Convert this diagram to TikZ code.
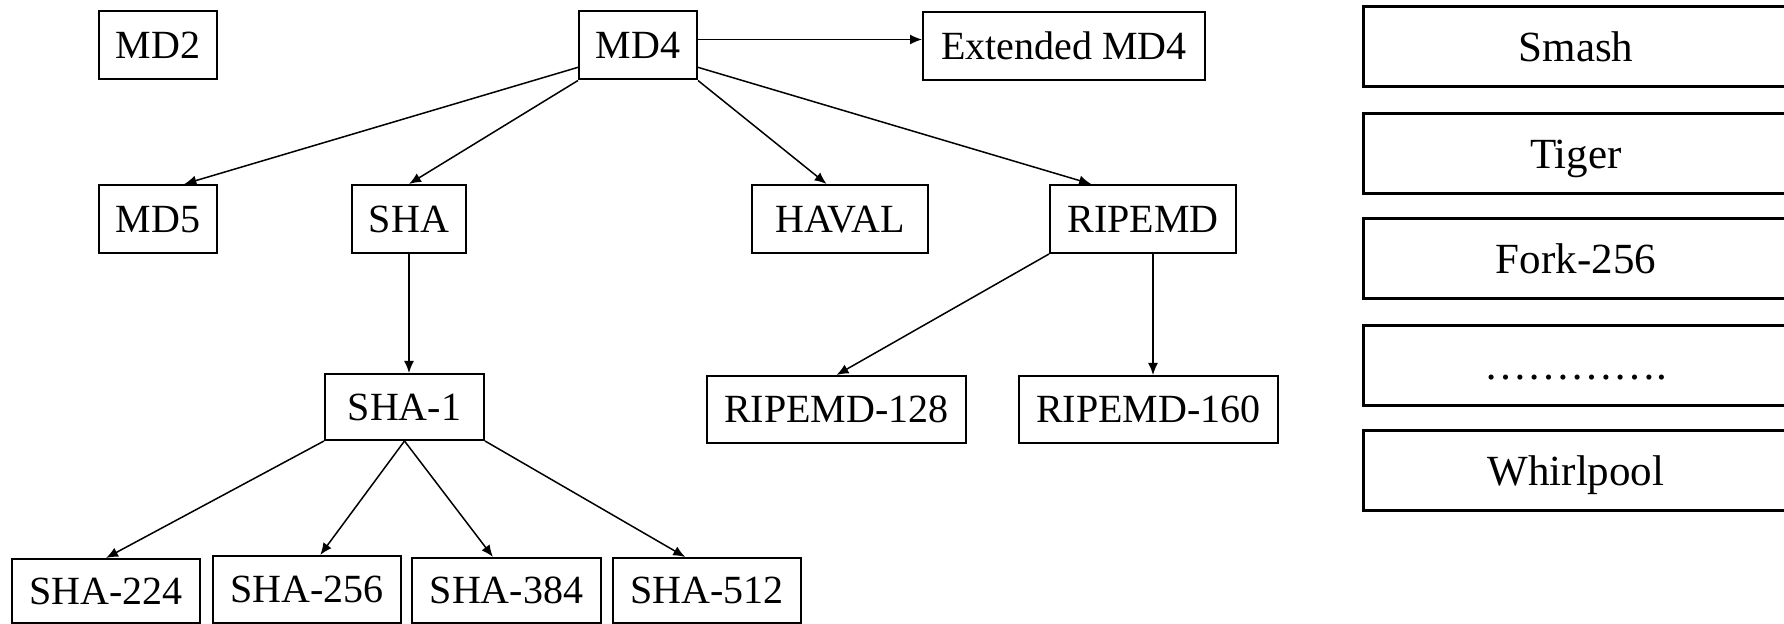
\documentclass[tikz,border=0pt]{standalone}
\usepackage{fontspec}
\setmainfont{Liberation Serif}
\usetikzlibrary{arrows.meta}

\tikzset{
  hashbox/.style={draw, line width=1pt, inner sep=0pt, minimum height=34pt,
    text height=13.2pt, text depth=0pt, font=\fontsize{20}{24}\selectfont},
  otherbox/.style={draw, line width=1.5pt, inner sep=0pt, minimum width=213pt,
    minimum height=40pt, text height=14.2pt, text depth=0pt, font=\fontsize{21.5}{26}\selectfont},
  derive/.style={-{Latex[length=6pt,width=5pt]}, line width=0.75pt}
}

\begin{document}
\begin{tikzpicture}[x=0.5pt, y=-0.5pt]
    \useasboundingbox (0,0) rectangle (1784,624);
    \clip (0,0) rectangle (1784,624);

    % top row
    \node[hashbox, minimum width=59pt] (md2) at (158,45.5) {MD2};
    \node[hashbox, minimum width=59pt] (md4) at (638,45.5) {MD4};
    \node[hashbox, minimum width=141pt] (extmd4) at (1064,46) {Extended MD4};

    % second row
    \node[hashbox, minimum width=59pt] (md5) at (158,219) {MD5};
    \node[hashbox, minimum width=57pt] (sha) at (409,219) {SHA};
    \node[hashbox, minimum width=88pt] (haval) at (840,219) {HAVAL};
    \node[hashbox, minimum width=93pt] (ripemd) at (1143,219) {RIPEMD};

    % third row
    \node[hashbox, minimum width=79.5pt, minimum height=33pt] (sha1) at (404.5,407) {SHA-1};
    \node[hashbox, minimum width=129.5pt, minimum height=33.5pt] (r128) at (836.5,409.5) {RIPEMD-128};
    \node[hashbox, minimum width=129.5pt, minimum height=33.5pt] (r160) at (1148.5,409.5) {RIPEMD-160};

    % SHA-2 row
    \node[hashbox, minimum width=94pt, minimum height=32pt] (sha224) at (106,591) {SHA-224};
    \node[hashbox, minimum width=94pt, minimum height=33.5pt] (sha256) at (307,589.5) {SHA-256};
    \node[hashbox, minimum width=94.5pt, minimum height=32.5pt] (sha384) at (506.5,590.5) {SHA-384};
    \node[hashbox, minimum width=94pt, minimum height=32.5pt] (sha512) at (707,590.5) {SHA-512};

    % other designs
    \node[otherbox] (smash) at (1576,47) {Smash};
    \node[otherbox] (tiger) at (1576,154) {Tiger};
    \node[otherbox] (fork) at (1576,259) {Fork-256};
    \node[otherbox] (more) at (1576,365.5) {…………{.}};
    \node[otherbox] (whirl) at (1576,471) {Whirlpool};

    % connectors
    \draw[derive] ([yshift=3pt]md4.east) -- ([yshift=3pt]md4.east -| extmd4.west);
    \draw[derive] (md4.200) -- (md5.53);
    \draw[derive] (md4.south west) -- (sha.north);
    \draw[derive] (md4.south east) -- (haval.111);
    \draw[derive] (md4.340) -- (ripemd.146);
    \draw[derive] (sha.south) -- (sha.south |- sha1.north);
    \draw[derive] (sha1.south west) -- (sha224.north);
    \draw[derive] (sha1.south) -- (sha256.69);
    \draw[derive] (sha1.south) -- (sha384.112);
    \draw[derive] (sha1.south east) -- (sha512.123);
    \draw[derive] (ripemd.south west) -- (r128.north);
    \draw[derive] ([xshift=5pt]ripemd.south) -- ([xshift=5pt]ripemd.south |- r160.north);
\end{tikzpicture}
\end{document}
